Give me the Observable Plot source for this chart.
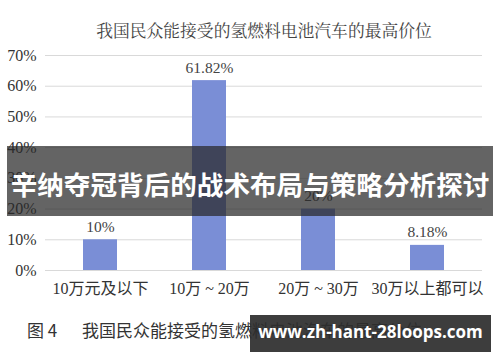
<!DOCTYPE html>
<html><head><meta charset="utf-8">
<script src="https://cdn.jsdelivr.net/npm/d3@7"></script>
<script src="https://cdn.jsdelivr.net/npm/@observablehq/plot@0.6"></script>
<style>
body{margin:0;background:#fff;}
#wrap{position:relative;width:500px;height:362px;overflow:hidden;background:#fff;font-family:"Liberation Serif","Noto Sans CJK SC",serif;}
#wrap svg{position:absolute;left:0;top:0;}
.abs{position:absolute;white-space:nowrap;}
</style></head><body>
<div id="wrap"></div>
<script>
const categories = ["10万元及以下","10万 ~ 20万","20万 ~ 30万","30万以上都可以"];
const values = [10, 61.82, 20, 8.18];
const valueLabels = ["10%","61.82%","20%","8.18%"];
const yTicks = [0,10,20,30,40,50,60,70];
const title = "我国民众能接受的氢燃料电池汽车的最高价位";
const caption = "我国民众能接受的氢燃料电池汽车的最高价位";
const figNo = "图 4";
const banner = "辛纳夺冠背后的战术布局与策略分析探讨";
const watermark = "www.zh-hant-28loops.com";

const data = categories.map((c,i)=>({cat:c, v:values[i], label:valueLabels[i]}));

const chart = Plot.plot({
  width:500, height:362,
  marginLeft:45, marginRight:18, marginTop:55, marginBottom:92,
  style:{fontFamily:'"Liberation Serif","Noto Sans CJK SC",serif', fontSize:"16px", color:"#333", background:"transparent"},
  x:{domain:categories, paddingInner:0.69, paddingOuter:0.345, label:null},
  y:{domain:[0,70], label:null},
  marks:[
    Plot.ruleY(yTicks,{stroke:"#d9d9d9", strokeWidth:1}),
    Plot.barY(data,{x:"cat", y:"v", fill:"#7a8ed6"}),
    Plot.text(data,{x:"cat", y:"v", text:"label", dy:-13, fontSize:15.5, fill:"#444"}),
    Plot.axisX({tickSize:0, tickPadding:12, fontSize:16, fill:"#333"}),
    Plot.axisY({ticks:yTicks, tickSize:0, tickPadding:9, tickFormat:d=>d+"%", fontSize:16, fill:"#333"})
  ]
});
const wrap = document.getElementById("wrap");
wrap.appendChild(chart);

function addDiv(text, css){
  const d=document.createElement("div"); d.className="abs"; d.textContent=text;
  Object.assign(d.style, css); wrap.appendChild(d); return d;
}
addDiv(title,{left:"0",width:"528px",textAlign:"center",top:"19px",fontSize:"16.8px",color:"#444",lineHeight:"22px",fontFamily:'"Noto Serif CJK SC","Liberation Serif","Noto Sans CJK SC",serif'});
addDiv(figNo,{left:"27px",top:"319px",fontSize:"17px",color:"#333",lineHeight:"22px",fontFamily:'"Noto Sans CJK SC",sans-serif'});
addDiv(caption,{left:"82px",top:"319px",fontSize:"17px",color:"#333",lineHeight:"22px",fontFamily:'"Noto Sans CJK SC",sans-serif'});
addDiv(banner,{left:"7px",top:"146px",width:"486px",height:"70px",background:"rgba(40,40,40,0.72)",color:"#fff",fontSize:"26.6px",fontWeight:"bold",lineHeight:"76px",textAlign:"center",fontFamily:'"Noto Sans CJK SC",sans-serif'});
addDiv(watermark,{left:"250px",top:"315px",width:"241px",height:"37px",background:"rgba(45,45,45,0.92)",color:"#fff",fontSize:"17px",fontWeight:"bold",lineHeight:"34px",textAlign:"center",fontFamily:'"Open Sans","DejaVu Sans",sans-serif'});
</script>
</body></html>
